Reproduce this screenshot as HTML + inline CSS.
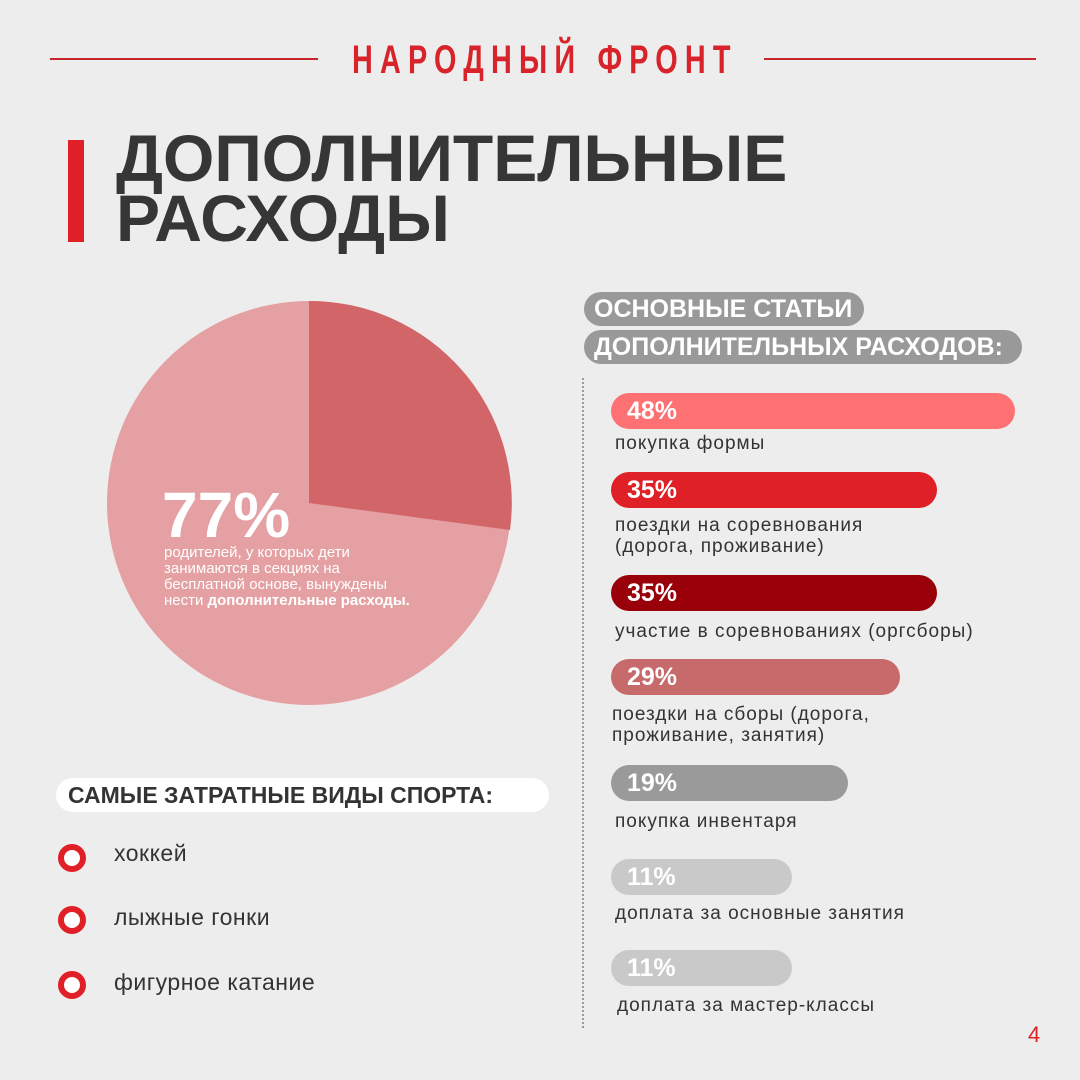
<!DOCTYPE html>
<html><head><meta charset="utf-8"><style>
body{margin:0;width:1080px;height:1080px;background:#eeeded;position:relative;overflow:hidden;font-family:"Liberation Sans","DejaVu Sans",sans-serif;}
.a{position:absolute;white-space:nowrap}
.bar{position:absolute;height:36px;border-radius:18px;color:#fff;font-size:25px;font-weight:bold;line-height:36px;padding-left:16px;box-sizing:border-box}
.lab{position:absolute;font-size:19px;color:#333;line-height:21px;letter-spacing:1px}
.pill{position:absolute;background:#999;color:#fff;font-weight:bold;font-size:25px;height:34px;line-height:34px;border-radius:17px;padding:0 10px;box-sizing:border-box}
.ring{position:absolute;left:58px;width:16px;height:16px;border:6px solid #e01f26;border-radius:50%;background:#fff}
.sp{position:absolute;left:114px;font-size:23px;color:#333;letter-spacing:0.5px}
</style></head><body>
<div class="a" style="left:50px;top:58px;width:268px;height:2px;background:#c8262c"></div>
<div class="a" style="left:764px;top:58px;width:272px;height:2px;background:#c8262c"></div>
<div class="a" style="left:352px;top:38px;font-size:40px;font-weight:bold;color:#d8232a;letter-spacing:10px;transform:scaleX(0.72);transform-origin:left;">НАРОДНЫЙ ФРОНТ</div>
<div class="a" style="left:68px;top:140px;width:16px;height:102px;background:#e01f26"></div>
<div class="a" style="left:116px;top:128px;font-size:66px;font-weight:bold;color:#363636;line-height:60px;">ДОПОЛНИТЕЛЬНЫЕ<br>РАСХОДЫ</div>
<svg class="a" style="left:0;top:0" width="560" height="760">
<circle cx="309" cy="503" r="202" fill="#e4a0a2"/>
<path d="M309 503 L309 301 A202 202 0 0 1 510 530 Z" fill="#d26568"/>
</svg>
<div class="a" style="left:162px;top:478px;font-size:64px;font-weight:bold;color:#fff;">77%</div>
<div class="a" style="left:164px;top:545px;font-size:15px;color:#fff;line-height:16px;">родителей, у которых дети<br>занимаются в секциях на<br>бесплатной основе, вынуждены<br>нести <b>дополнительные расходы.</b></div>
<div class="pill" style="left:584px;top:292px;width:280px;">ОСНОВНЫЕ СТАТЬИ</div>
<div class="pill" style="left:584px;top:330px;width:438px;">ДОПОЛНИТЕЛЬНЫХ РАСХОДОВ:</div>
<div class="a" style="left:582px;top:378px;height:650px;border-left:2px dotted #999"></div>
<div class="bar" style="left:611px;top:393px;width:404px;background:#fe7173">48%</div>
<div class="lab" style="left:615px;top:433px">покупка формы</div>
<div class="bar" style="left:611px;top:472px;width:326px;background:#df2027">35%</div>
<div class="lab" style="left:615px;top:515px">поездки на соревнования<br>(дорога, проживание)</div>
<div class="bar" style="left:611px;top:575px;width:326px;background:#9a000a">35%</div>
<div class="lab" style="left:615px;top:621px">участие в соревнованиях (оргсборы)</div>
<div class="bar" style="left:611px;top:659px;width:289px;background:#c76a6c">29%</div>
<div class="lab" style="left:612px;top:704px">поездки на сборы (дорога,<br>проживание, занятия)</div>
<div class="bar" style="left:611px;top:765px;width:237px;background:#9a9a9a">19%</div>
<div class="lab" style="left:615px;top:811px">покупка инвентаря</div>
<div class="bar" style="left:611px;top:859px;width:181px;background:#c9c9c9">11%</div>
<div class="lab" style="left:615px;top:903px">доплата за основные занятия</div>
<div class="bar" style="left:611px;top:950px;width:181px;background:#c9c9c9">11%</div>
<div class="lab" style="left:617px;top:995px">доплата за мастер-классы</div>
<div class="a" style="left:56px;top:778px;height:34px;width:493px;background:#fff;border-radius:17px;font-weight:bold;font-size:23px;line-height:34px;color:#333;padding-left:12px;box-sizing:border-box;">САМЫЕ ЗАТРАТНЫЕ ВИДЫ СПОРТА:</div>
<div class="ring" style="top:844px"></div><div class="sp" style="top:840px">хоккей</div>
<div class="ring" style="top:906px"></div><div class="sp" style="top:904px">лыжные гонки</div>
<div class="ring" style="top:971px"></div><div class="sp" style="top:969px">фигурное катание</div>
<div class="a" style="left:1028px;top:1022px;font-size:22px;color:#e01f26;">4</div>
</body></html>
